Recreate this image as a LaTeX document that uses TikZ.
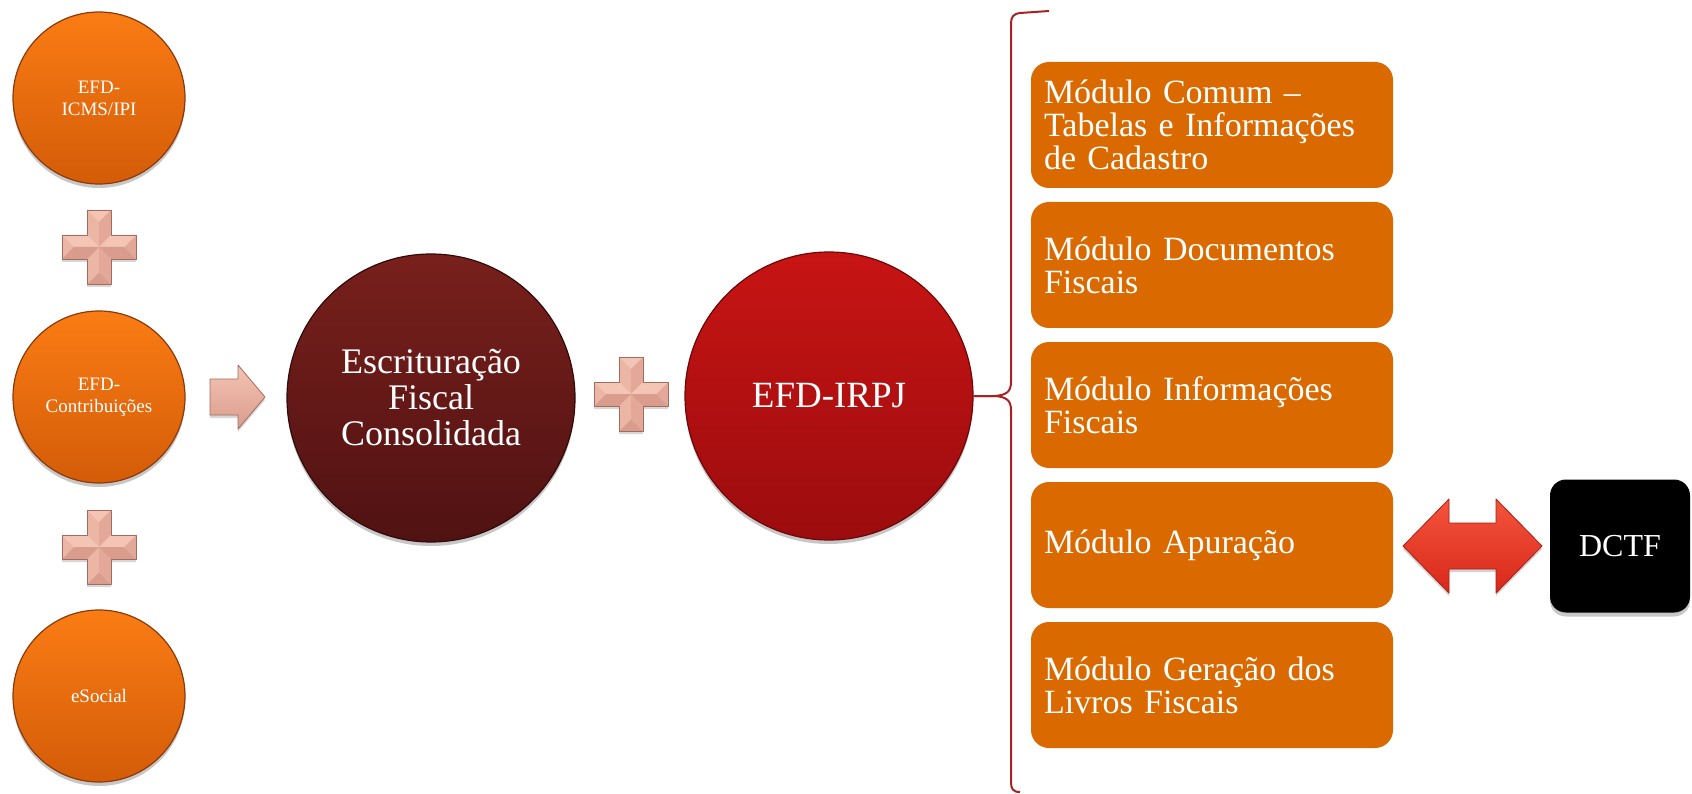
\documentclass[tikz,border=0pt]{standalone}
\usepackage{fontspec}
\setmainfont{Liberation Serif}
\usetikzlibrary{shadows}
\definecolor{orangeTop}{RGB}{250,124,20}
\definecolor{orangeBot}{RGB}{212,92,8}
\definecolor{orangeRim}{RGB}{140,58,12}
\definecolor{wineTop}{RGB}{120,32,28}
\definecolor{wineBot}{RGB}{80,18,18}
\definecolor{wineRim}{RGB}{50,10,10}
\definecolor{redTop}{RGB}{200,20,20}
\definecolor{redBot}{RGB}{156,12,14}
\definecolor{redRim}{RGB}{110,8,8}
\definecolor{boxOrange}{RGB}{218,106,0}
\definecolor{bracketRed}{RGB}{168,34,36}
\definecolor{plusLight}{RGB}{244,196,180}
\definecolor{plusMid}{RGB}{236,182,164}
\definecolor{plusDark}{RGB}{228,168,152}
\definecolor{plusDarker}{RGB}{218,156,140}
\definecolor{plusEdge}{RGB}{160,108,96}
\definecolor{arrowTop}{RGB}{244,84,60}
\definecolor{arrowBot}{RGB}{216,40,26}
\definecolor{arrowEdge}{RGB}{170,30,20}
\begin{document}
\begin{tikzpicture}[x=1pt,y=-1pt,
  softshadow/.style={drop shadow={shadow xshift=0pt,shadow yshift=-4pt,opacity=0.22,fill=black}},
  srccircle/.style={circle,minimum size=172pt,inner sep=0pt,top color=orangeTop,bottom color=orangeBot,
    draw=orangeRim,line width=1.2pt,text=white,align=center,font=\fontsize{19}{22}\selectfont,softshadow},
  bigcircle/.style={circle,minimum size=288pt,inner sep=0pt,line width=1.2pt,text=white,align=center,softshadow},
  modbox/.style={rectangle,rounded corners=18pt,fill=boxOrange,minimum width=362pt,minimum height=126pt,
    text width=336pt,inner xsep=13pt,inner ysep=0pt,align=left,text=white,font=\fontsize{34}{33}\selectfont},
  dctfbox/.style={rectangle,rounded corners=16pt,fill=black,minimum width=140pt,minimum height=133pt,
    inner sep=0pt,text=white,font=\fontsize{32}{32}\selectfont,softshadow},
  plussign/.pic={
    \fill[black,opacity=0.16] (-12,-34) -- (12,-34) -- (12,-9) -- (37,-9) -- (37,15) -- (12,15) -- (12,40) -- (-12,40) -- (-12,15) -- (-37,15) -- (-37,-9) -- (-12,-9) -- cycle;
    % top arm
    \fill[plusLight] (-12,-37) -- (12,-37) -- (0,-25) -- cycle;
    \fill[plusMid] (-12,-37) -- (0,-25) -- (0,0) -- (-12,-12) -- cycle;
    \fill[plusDark] (12,-37) -- (0,-25) -- (0,0) -- (12,-12) -- cycle;
    % bottom arm
    \fill[plusDarker] (-12,37) -- (12,37) -- (0,25) -- cycle;
    \fill[plusMid] (-12,37) -- (0,25) -- (0,0) -- (-12,12) -- cycle;
    \fill[plusDark] (12,37) -- (0,25) -- (0,0) -- (12,12) -- cycle;
    % left arm
    \fill[plusMid] (-37,-12) -- (-37,12) -- (-25,0) -- cycle;
    \fill[plusLight] (-37,-12) -- (-25,0) -- (0,0) -- (-12,-12) -- cycle;
    \fill[plusDarker] (-37,12) -- (-25,0) -- (0,0) -- (-12,12) -- cycle;
    % right arm
    \fill[plusDark] (37,-12) -- (37,12) -- (25,0) -- cycle;
    \fill[plusLight] (37,-12) -- (25,0) -- (0,0) -- (12,-12) -- cycle;
    \fill[plusDarker] (37,12) -- (25,0) -- (0,0) -- (12,12) -- cycle;
    \draw[plusEdge,line width=0.8pt,line join=round] (-12,-37) -- (12,-37) -- (12,-12) -- (37,-12) -- (37,12) -- (12,12) -- (12,37) -- (-12,37) -- (-12,12) -- (-37,12) -- (-37,-12) -- (-12,-12) -- cycle;
  }]
\useasboundingbox (0,0) rectangle (1692,794);
\fill[white] (0,0) rectangle (1692,794);

% source circles
\node[srccircle] (icms) at (99,98) {EFD-\\ICMS/IPI};
\node[srccircle] (contrib) at (99,397) {EFD-\\Contribuições};
\node[srccircle] (esocial) at (99,696) {eSocial};

% plus signs
\pic at (99,247) {plussign};
\pic at (99,547) {plussign};
\pic at (631,394) {plussign};

% input chevron arrow
\fill[black,opacity=0.16] (210,382) -- (238,382) -- (238,368) -- (265,400) -- (238,432) -- (238,418) -- (210,418) -- cycle;
\path[top color=plusLight,bottom color=plusDarker,draw=plusEdge,line width=0.8pt,line join=round]
  (210,379) -- (238,379) -- (238,365) -- (265,397) -- (238,429) -- (238,415) -- (210,415) -- cycle;

% central circles
\node[bigcircle,top color=wineTop,bottom color=wineBot,draw=wineRim,font=\fontsize{36}{36}\selectfont]
  (efc) at (431,398) {Escrituração\\Fiscal\\Consolidada};
\node[bigcircle,top color=redTop,bottom color=redBot,draw=redRim,font=\fontsize{37}{37}\selectfont]
  (irpj) at (829,396) {EFD-IRPJ};

% modules
\node[modbox] (m1) at (1212,125) {Módulo Comum –\\Tabelas e Informações\\de Cadastro};
\node[modbox] (m2) at (1212,265) {Módulo Documentos\\Fiscais};
\node[modbox] (m3) at (1212,405) {Módulo Informações\\Fiscais};
\node[modbox] (m4) at (1212,545) {Módulo Apuração};
\node[modbox] (m5) at (1212,685) {Módulo Geração dos\\Livros Fiscais};

% bracket
\coordinate (brtop) at (1049,11);
\coordinate (brbot) at (1020,792);
\draw[bracketRed,line width=2pt,line join=round]
  (brtop) -- (1020,13) .. controls (1013,14) and (1011,17) .. (1011,24)
  -- (1011,382) .. controls (1011,392) and (1006,395) .. (995,396) -- (irpj.east);
\draw[bracketRed,line width=2pt,line join=round]
  (irpj.east) -- (995,396) .. controls (1006,397) and (1011,400) .. (1011,410)
  -- (1011,782) .. controls (1011,789) and (1013,792) .. (brbot);

% DCTF
\node[dctfbox] (dctf) at (1620,546) {DCTF};

% double arrow
\fill[black,opacity=0.18] (1403,549) -- (1449,502) -- (1449,526) -- (1496,526) -- (1496,502) -- (1542,549) -- (1496,596) -- (1496,572) -- (1449,572) -- (1449,596) -- cycle;
\path[top color=arrowTop,bottom color=arrowBot,draw=arrowEdge,line width=0.8pt,line join=round]
  (1403,546) -- (1449,499) -- (1449,523) -- (1496,523) -- (1496,499) -- (1542,546)
  -- (1496,593) -- (1496,569) -- (1449,569) -- (1449,593) -- cycle;
\end{tikzpicture}
\end{document}
